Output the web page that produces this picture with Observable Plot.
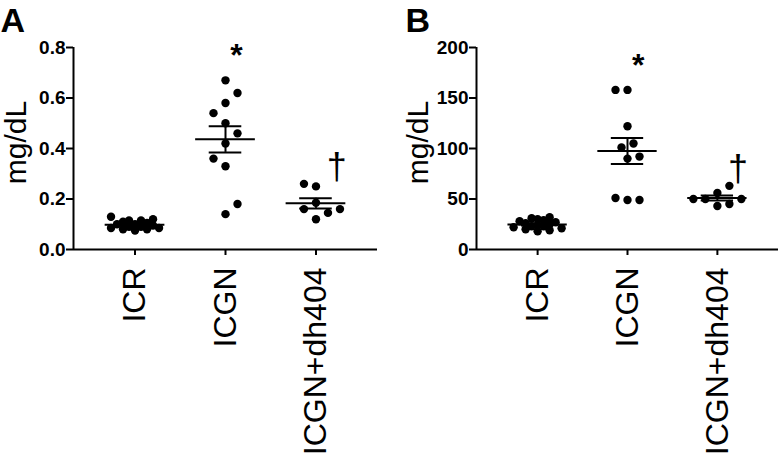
<!DOCTYPE html>
<html>
<head>
<meta charset="utf-8">
<script src="https://cdn.jsdelivr.net/npm/d3@7"></script>
<script src="https://cdn.jsdelivr.net/npm/@observablehq/plot@0.6"></script>
<style>
  html, body { margin: 0; padding: 0; background: white; }
  #wrap { display: flex; width: 780px; height: 455px; overflow: hidden; }
</style>
</head>
<body>
<div id="wrap"></div>
<script>
// ---- data ----
const categories = ["ICR", "ICGN", "ICGN+dh404"];
const sigMarks = ["", "*", "†"];

// Panel A (mg/dL)
const icrA  = [0.13, 0.12, 0.115, 0.115, 0.11, 0.105, 0.10, 0.10, 0.095, 0.09, 0.09, 0.085, 0.085, 0.08, 0.08, 0.075];
const icgnA = [0.67, 0.62, 0.58, 0.54, 0.50, 0.46, 0.42, 0.36, 0.33, 0.18, 0.14];
const dhA   = [0.25, 0.26, 0.185, 0.16, 0.16, 0.145, 0.12];
const ticksA = [0, 0.2, 0.4, 0.6, 0.8];

// Panel B (mg/dL)
const icrB  = [32, 31, 30, 29, 28, 27, 26, 25, 24, 23, 23, 22, 21, 20, 19, 18];
const icgnB = [158, 158, 122, 105, 101, 92, 90, 51, 49, 49];
const dhB   = [63, 56, 50, 50, 50, 45, 43];
const ticksB = [0, 50, 100, 150, 200];

// ---- compact scatter layout (pixel space), limited width ----
function swarm(vals, ky, kx) {
  const s = 6, K = 4;
  const order = d3.sort(d3.range(vals.length), i => vals[i]);
  const placed = [];
  const off = new Array(vals.length);
  for (const i of order) {
    const y = vals[i] * ky;
    const bal = d3.sum(placed, p => Math.sign(p.x));
    const cands = [0];
    for (let k = 1; k <= K; k++) cands.push(...(bal > 0 ? [-k * s, k * s] : [k * s, -k * s]));
    const minDist = x => placed.length ? d3.min(placed, p => Math.hypot(p.x - x, p.y - y)) : Infinity;
    let pick;
    for (const D of [12, 9, 6, 4]) {
      pick = cands.find(x => minDist(x) >= D);
      if (pick !== undefined) break;
    }
    if (pick === undefined) pick = d3.greatest(cands, x => minDist(x));
    placed.push({x: pick, y});
    off[i] = pick / kx;
  }
  return off;
}

function panel(letter, groups, yTicks, yFormat, ml, mr, labelDx) {
  const W = 390, H = 455, mt = 47, mb = 206;
  const pad = 0.68;
  const x0 = -pad, x1 = groups.length - 1 + pad;
  const ymax = yTicks[yTicks.length - 1];
  const ky = (H - mt - mb) / ymax;
  const kx = (W - ml - mr) / (x1 - x0);
  const pts = groups.flatMap((vals, i) => {
    const off = swarm(vals, ky, kx);
    return vals.map((v, j) => ({i, v, x: i + off[j]}));
  });
  const stats = groups.map((vals, i) => {
    const m = d3.mean(vals), se = d3.deviation(vals) / Math.sqrt(vals.length);
    return {i, m, lo: m - se, hi: m + se, max: d3.max(vals), sig: sigMarks[i]};
  });
  return Plot.plot({
    width: W, height: H,
    marginLeft: ml, marginRight: mr, marginTop: mt, marginBottom: mb,
    style: {fontFamily: "'Liberation Sans', Arial, Helvetica, sans-serif", color: "black", background: "white", overflow: "visible"},
    x: {type: "linear", domain: [x0, x1]},
    y: {domain: [0, ymax]},
    marks: [
      Plot.axisY({ticks: yTicks, tickFormat: yFormat, fontWeight: "bold", fontSize: 19, tickSize: 7, tickPadding: 1, strokeWidth: 2, label: null}),
      Plot.axisX({ticks: d3.range(categories.length), tickFormat: i => categories[i], tickRotate: -90, fontSize: 32, tickSize: 6, tickPadding: 12, strokeWidth: 2, label: null}),
      Plot.ruleX([x0], {strokeWidth: 2}),
      Plot.ruleY([0], {strokeWidth: 2}),
      Plot.dot(pts, {x: "x", y: "v", r: 4.2, fill: "black", stroke: "none"}),
      Plot.ruleY(stats, {y: "m", x1: d => d.i - 0.33, x2: d => d.i + 0.33, strokeWidth: 2}),
      Plot.ruleY(stats, {y: "hi", x1: d => d.i - 0.18, x2: d => d.i + 0.18, strokeWidth: 2}),
      Plot.ruleY(stats, {y: "lo", x1: d => d.i - 0.18, x2: d => d.i + 0.18, strokeWidth: 2}),
      Plot.ruleX(stats, {x: "i", y1: "lo", y2: "hi", strokeWidth: 2}),
      Plot.text(stats.filter(d => d.sig === "*"), {x: d => d.i + 0.12, y: d => d.max + 0.12 * ymax, text: "sig", fontSize: 32, fontWeight: "bold"}),
      Plot.text(stats.filter(d => d.sig === "†"), {x: d => d.i + 0.23, y: d => d.max + 0.08 * ymax, text: "sig", fontSize: 36}),
      Plot.text([letter], {frameAnchor: "top-left", text: d => d, dx: labelDx.letter, dy: -40, fontSize: 34, fontWeight: "bold", textAnchor: "start", lineAnchor: "top"}),
      Plot.text(["mg/dL"], {frameAnchor: "left", text: d => d, rotate: -90, dx: labelDx.axis, dy: -6, fontSize: 30, textAnchor: "middle", lineAnchor: "middle"})
    ]
  });
}

const wrap = document.getElementById("wrap");
wrap.appendChild(panel("A", [icrA, icgnA, dhA], ticksA, d => d.toFixed(1), 73, 13, {letter: -73, axis: -57}));
wrap.appendChild(panel("B", [icrB, icgnB, dhB], ticksB, d => String(d), 86, 2, {letter: -71, axis: -58}));
</script>
</body>
</html>
